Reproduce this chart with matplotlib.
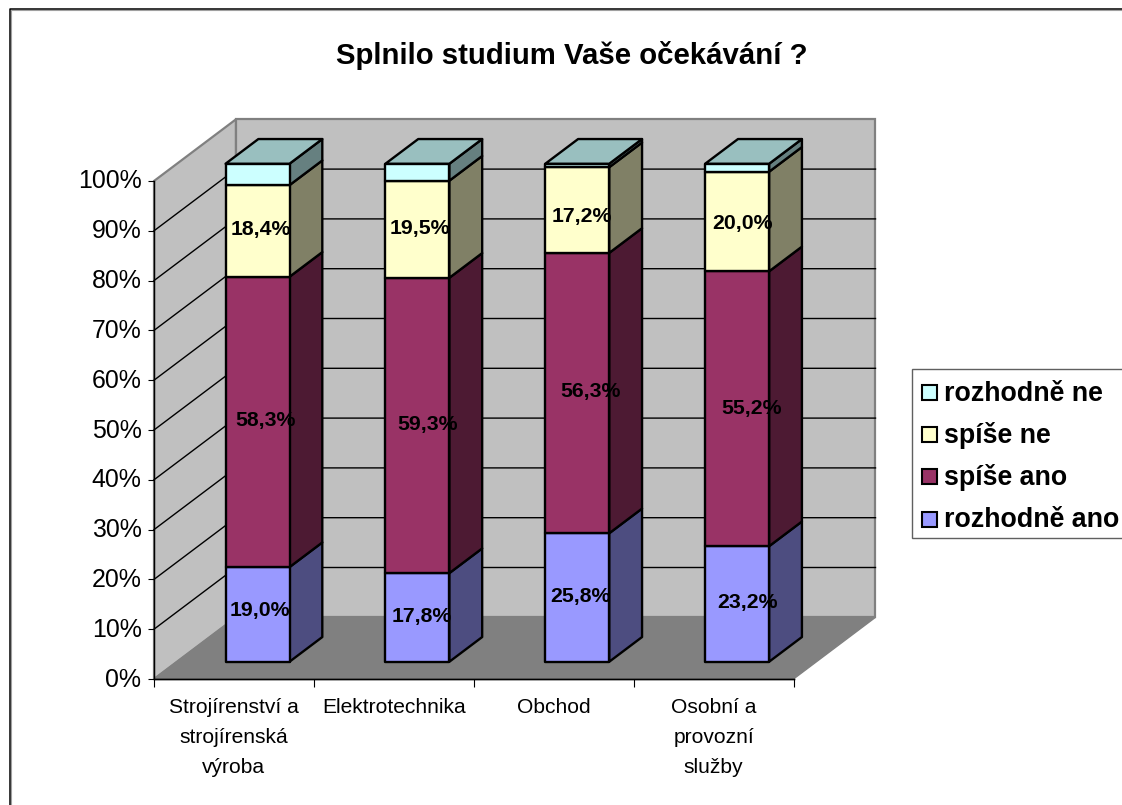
import matplotlib
matplotlib.use("Agg")
import matplotlib.pyplot as plt
from matplotlib.lines import Line2D
from matplotlib.patches import Polygon, Rectangle
from matplotlib.transforms import ScaledTranslation

W, H = 1122, 805

categories = ["Strojírenství a\nstrojírenská\nvýroba", "Elektrotechnika", "Obchod", "Osobní a\nprovozní\nslužby"]
series_names = ["rozhodně ano", "spíše ano", "spíše ne", "rozhodně ne"]
rozhodne_ano = [19.0, 17.8, 25.8, 23.2]
spise_ano = [58.3, 59.3, 56.3, 55.2]
spise_ne = [18.4, 19.5, 17.2, 20.0]
rozhodne_ne = [4.3, 3.4, 0.7, 1.6]
show_label = [True, True, True, False]
y_ticks = [0, 10, 20, 30, 40, 50, 60, 70, 80, 90, 100]

front_colors = ["#9999FF", "#993366", "#FFFFCC", "#CCFFFF"]
side_colors = ["#4D4D80", "#4D1A33", "#808066", "#668080"]
top_color = "#99BFBF"
wall_color = "#C0C0C0"
floor_color = "#808080"

# posun popisku proti stredu segmentu, v pixelech
label_nudge_x = [[2, 4, 3.5, 10], [7.5, 10.5, 13.5, 14.5], [3.5, 2, 5, 5.5]]
label_nudge_y = [[4, 1, 1, 1], [1, 1, 2, 0], [1, 1, -6, -2]]

# hloubka grafu v jednotkach os (sikma projekce)
DEPTH_X = 82 / 159.9
DEPTH_Y = 61.7 / 4.98
BAR_START = 0.304
BAR_WIDTH = 0.4
BAR_D0 = 0.28
BAR_D1 = 0.68


def proj(x, y, d):
    return (x + d * DEPTH_X, y + d * DEPTH_Y)


def fx(px):
    return px / W


def fy(px):
    return 1 - px / H


plt.rcParams["font.family"] = ["Liberation Sans", "DejaVu Sans"]
fig = plt.figure(figsize=(W / 100, H / 100), dpi=100)
# ramecek grafu je videt jen vlevo a nahore
fig.add_artist(Line2D([fx(10.5), fx(10.5), 1], [0, fy(10.5), fy(10.5)], transform=fig.transFigure,
                      color="#A0A0A0", linewidth=0.8))
fig.add_artist(Line2D([fx(9.5), fx(9.5), 1], [0, fy(9.5), fy(9.5)], transform=fig.transFigure,
                      color="black", linewidth=1.1))

ax = fig.add_axes([fx(154), fy(679), 639.5 / W, 498 / H])
ax.set_xlim(0, 4)
ax.set_ylim(0, 100)
ax.patch.set_visible(False)
for s in ["top", "right"]:
    ax.spines[s].set_visible(False)
for s in ["left", "bottom"]:
    ax.spines[s].set_linewidth(1)
    ax.spines[s].set_zorder(3)

# steny a podlaha
wall_kw = dict(clip_on=False, linewidth=1.6, zorder=1)
ax.add_patch(Polygon([proj(0, 0, 0), proj(0, 100, 0), proj(0, 100, 1), proj(0, 0, 1)],
                     facecolor=wall_color, edgecolor=floor_color, **wall_kw))
ax.add_patch(Polygon([proj(0, 0, 1), proj(0, 100, 1), proj(4, 100, 1), proj(4, 0, 1)],
                     facecolor=wall_color, edgecolor=floor_color, **wall_kw))
ax.add_patch(Polygon([proj(0, 0, 0), proj(4, 0, 0), proj(4, 0, 1), proj(0, 0, 1)],
                     facecolor=floor_color, edgecolor=floor_color, clip_on=False, linewidth=1, zorder=1.1))

# mrizka na stenach
for t in y_ticks[1:-1]:
    a, b, c = proj(0, t, 0), proj(0, t, 1), proj(4, t, 1)
    ax.plot([a[0], b[0], c[0]], [a[1], b[1], c[1]], color="black", linewidth=1, clip_on=False, zorder=1.2)
a, b = proj(0, 0, 0), proj(4, 0, 0)
ax.plot([a[0], b[0]], [a[1], b[1]], color="black", linewidth=1, clip_on=False, zorder=1.2)

series = [rozhodne_ano, spise_ano, spise_ne, rozhodne_ne]
bar_kw = dict(edgecolor="black", linewidth=1.7, joinstyle="round", clip_on=False)
for i in range(len(categories)):
    x0 = i + BAR_START
    x1 = x0 + BAR_WIDTH
    bottom = 0
    for k, values in enumerate(series):
        top = bottom + values[i]
        z = 2 + i + k * 0.1
        ax.add_patch(Polygon([proj(x1, bottom, BAR_D0), proj(x1, top, BAR_D0), proj(x1, top, BAR_D1), proj(x1, bottom, BAR_D1)],
                             facecolor=side_colors[k], zorder=z, **bar_kw))
        ax.add_patch(Polygon([proj(x0, bottom, BAR_D0), proj(x1, bottom, BAR_D0), proj(x1, top, BAR_D0), proj(x0, top, BAR_D0)],
                             facecolor=front_colors[k], zorder=z, **bar_kw))
        if show_label[k]:
            cx, cy = proj((x0 + x1) / 2, (bottom + top) / 2, BAR_D0)
            ax.annotate(f"{values[i]:.1f}%".replace(".", ","), (cx, cy),
                        xytext=(label_nudge_x[k][i] * 0.72, label_nudge_y[k][i] * 0.72), textcoords="offset points",
                        ha="center", va="center", fontsize=15.3, fontweight="bold", color="black", zorder=20)
        bottom = top
    ax.add_patch(Polygon([proj(x0, bottom, BAR_D0), proj(x1, bottom, BAR_D0), proj(x1, bottom, BAR_D1), proj(x0, bottom, BAR_D1)],
                         facecolor=top_color, zorder=2 + i + 0.5, **bar_kw))

ax.set_yticks(y_ticks)
ax.set_yticklabels([f"{t}%" for t in y_ticks])
ax.tick_params(axis="y", length=4.5, width=0.8, labelsize=17.9, pad=4.5)
# popisky os Y sedi v originale o 2 px vys nez znacky
for lab in ax.get_yticklabels():
    lab.set_transform(lab.get_transform() + ScaledTranslation(0, 2 / 100, fig.dpi_scale_trans))
ax.set_xticks(range(len(categories) + 1))
ax.set_xticklabels([])
ax.tick_params(axis="x", which="major", length=6, width=0.8)
ax.set_xticks([i + 0.5 for i in range(len(categories))], minor=True)
ax.set_xticklabels(categories, minor=True, linespacing=1.72)
ax.tick_params(axis="x", which="minor", length=0, labelsize=15.1, pad=14)

fig.text(fx(572), fy(56), "Splnilo studium Vaše očekávání ?", ha="center", va="center",
         fontsize=21.2, fontweight="bold")

# legenda je v originale useknuta pravym okrajem, proto rucne
fig.add_artist(Rectangle((fx(911.7), fy(537.7)), 1, 168.4 / H, transform=fig.transFigure,
                         facecolor="white", edgecolor="#606060", linewidth=1))
for n, k in enumerate(range(3, -1, -1)):
    yc = 392.7 + n * 42.1
    fig.add_artist(Rectangle((fx(921.5), fy(yc + 7.5)), 15 / W, 15 / H, transform=fig.transFigure,
                             facecolor=front_colors[k], edgecolor="black", linewidth=1.5))
    fig.text(fx(944), fy(yc + 1), series_names[k], ha="left", va="center", fontsize=19.3, fontweight="bold")

fig.savefig("out.png", dpi=100)
